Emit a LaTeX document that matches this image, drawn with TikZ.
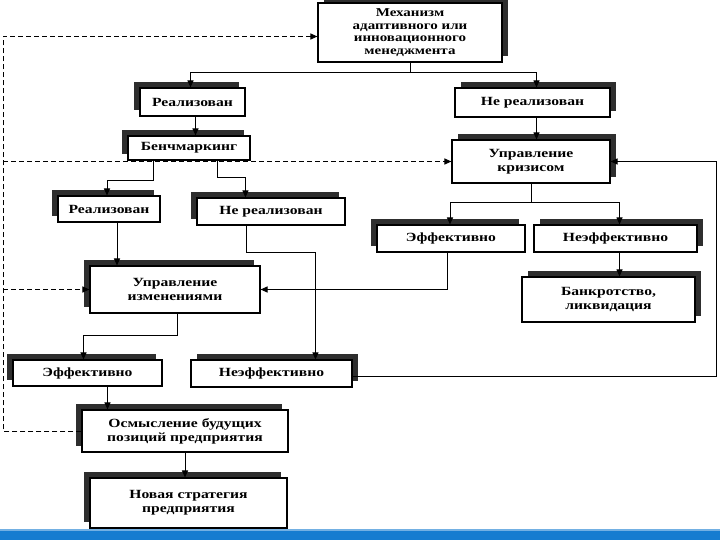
\documentclass[tikz,border=0pt]{standalone}
\usepackage{fontspec}
\setmainfont{Liberation Serif}[FakeStretch=1.25]
\usetikzlibrary{shadows,arrows.meta,backgrounds}
\definecolor{barblue}{RGB}{22,124,208}
\tikzset{
  box/.style={draw, line width=1.1pt, fill=white, align=center, inner sep=1pt,
    font=\fontsize{12.5}{14}\selectfont\bfseries},
  shUL/.style={general shadow={fill=black!82, shadow xshift=-6pt, shadow yshift=6pt}},
  shUR/.style={general shadow={fill=black!82, shadow xshift=6pt, shadow yshift=6pt}},
  conn/.style={line width=1pt, -{Triangle[length=7pt,width=6pt]}},
  plain/.style={line width=1pt},
  darr/.style={line width=1pt, dash pattern=on 5pt off 3pt, -{Triangle[length=7pt,width=6pt]}},
}
\begin{document}
\begin{tikzpicture}[x=1pt,y=-1pt]
\useasboundingbox (0,0) rectangle (720,540);
\coordinate (lft) at (3,300);
\coordinate (rside) at (716,300);
% nodes
\node[box, shUR, minimum width=184pt, minimum height=59pt, font=\fontsize{12}{12.6}\selectfont\bfseries] (mech) at (410,32.5) {Механизм\\адаптивного или\\инновационного\\менеджмента};
\node[box, shUL, minimum width=105pt, minimum height=28pt] (real1) at (192.5,102) {Реализован};
\node[box, shUR, minimum width=155pt, minimum height=29pt] (nreal1) at (532.5,102.5) {Не реализован};
\node[box, shUL, minimum width=122pt, minimum height=24pt] (bench) at (189,148) {Бенчмаркинг};
\node[box, shUR, minimum width=158pt, minimum height=43pt] (crisis) at (531,161.5) {Управление\\кризисом};
\node[box, shUL, minimum width=102pt, minimum height=26pt] (real2) at (109,209) {Реализован};
\node[box, shUL, minimum width=148pt, minimum height=27pt] (nreal2) at (271,211.5) {Не реализован};
\node[box, shUL, minimum width=148pt, minimum height=27pt] (eff1) at (451,238.5) {Эффективно};
\node[box, shUR, minimum width=163pt, minimum height=27pt] (neff1) at (615.5,238.5) {Неэффективно};
\node[box, shUR, minimum width=173pt, minimum height=45pt] (bank) at (608.5,299.5) {Банкротство,\\ликвидация};
\node[box, shUL, minimum width=170pt, minimum height=47pt] (chg) at (175,289.5) {Управление\\изменениями};
\node[box, shUL, minimum width=149pt, minimum height=26pt] (eff2) at (87.5,373) {Эффективно};
\node[box, shUR, minimum width=161pt, minimum height=27pt] (neff2) at (271.5,373.5) {Неэффективно};
\node[box, shUL, minimum width=206pt, minimum height=42pt] (think) at (185,431) {Осмысление будущих\\позиций предприятия};
\node[box, shUL, minimum width=197pt, minimum height=50pt] (newstr) at (188.5,503) {Новая стратегия\\предприятия};
% dashed line to crisis passes behind the Benchmarking box
\begin{scope}[on background layer]
\draw[darr] (lft |- crisis.west) -- (crisis.west);
\end{scope}
% connectors
\draw[plain] (mech.south) -- ++(0,10) coordinate (j1);
\draw[conn] (j1) -| ([xshift=-2pt]real1.north);
\draw[conn] (j1) -| ([xshift=4pt]nreal1.north);
\draw[conn] ([xshift=3pt]real1.south) -- ([xshift=3pt]real1.south |- bench.north);
\draw[conn] ([xshift=4pt]nreal1.south) -- ([xshift=4pt]nreal1.south |- crisis.north);
\draw[conn] ([xshift=26pt]bench.south west) -- ++(0,20) -| ([xshift=-2pt]real2.north);
\draw[conn] ([xshift=90pt]bench.south west) -- ++(0,17) -| ([xshift=49pt]nreal2.north west);
\draw[conn] ([xshift=8pt]real2.south) -- ([xshift=8pt]real2.south |- chg.north);
\draw[conn] ([xshift=50pt]nreal2.south west) -- ++(0,27) -| ([xshift=125pt]neff2.north west);
\draw[plain] (crisis.south) -- ++(0,19) coordinate (j2);
\draw[conn] (j2) -| ([xshift=-1pt]eff1.north);
\draw[conn] (j2) -| ([xshift=4pt]neff1.north);
\draw[conn] ([xshift=4pt]neff1.south) -- ([xshift=4pt]neff1.south |- bank.north);
\draw[conn] ([xshift=-4pt]eff1.south) |- (chg.east);
\draw[conn] ([xshift=2pt]chg.south) -- ++(0,22) -| ([xshift=-4pt]eff2.north);
\draw[conn] ([xshift=20pt]eff2.south) -- ([xshift=20pt]eff2.south |- think.north);
\draw[conn] (think.south) -- (think.south |- newstr.north);
\draw[conn] ([yshift=-3pt]neff2.east) -| (rside |- crisis.east) -- (crisis.east);
% dashed feedback
\draw[darr] (think.west) -- (think.west -| lft) |- ([yshift=-4pt]mech.west);
\draw[darr] (lft |- chg.west) -- (chg.west);
% bottom bar
\fill[barblue] (0,530) rectangle (720,540);
\fill[barblue!60!white] (0,529) rectangle (720,530.5);
\end{tikzpicture}
\end{document}
